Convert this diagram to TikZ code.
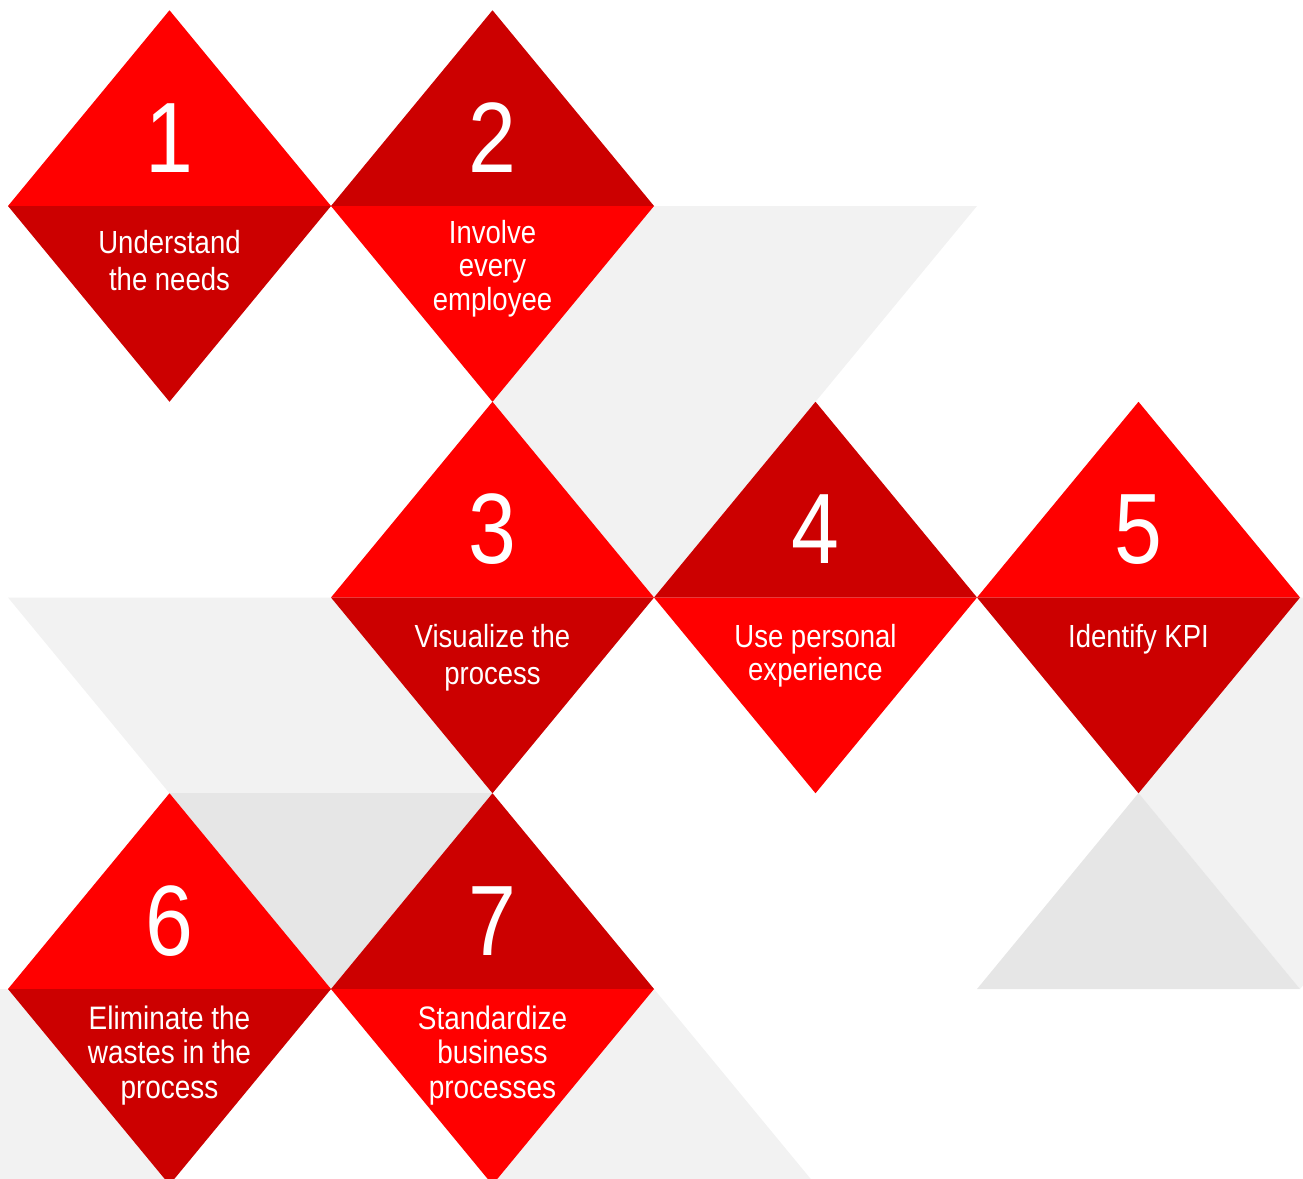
\documentclass[tikz,border=0pt]{standalone}
\usepackage{fontspec}
\setmainfont{Liberation Sans}[FakeStretch=0.86]
\definecolor{brightred}{HTML}{FF0000}
\definecolor{deepred}{HTML}{CC0000}
\definecolor{palegray}{HTML}{F2F2F2}
\definecolor{midgray}{HTML}{E6E6E6}
\tikzset{
  numtext/.style={text=white, anchor=base, inner sep=0pt, font=\fontsize{100}{100}\selectfont},
  labtext/.style={text=white, anchor=base, inner sep=0pt, align=center, font=\fontsize{#1}{#1}\selectfont},
  labtext/.default={32}
}
\newcommand{\halfdiamonds}[4]{%
  \fill[#3] (#1-161.5,#2) -- (#1,#2-195.75) -- (#1+161.5,#2) -- cycle;
  \fill[#4] (#1-161.5,#2) -- (#1,#2+195.75) -- (#1+161.5,#2) -- cycle;
}
\begin{document}
\begin{tikzpicture}[x=1pt,y=-1pt]
\useasboundingbox (0,0) rectangle (1303,1178);
\clip (0,0) rectangle (1303,1178);
% background gray triangles
\fill[palegray] (331,206) -- (977,206) -- (654,597.5) -- cycle;
\fill[palegray] (8,597.5) -- (654,597.5) -- (331,989) -- cycle;
\fill[palegray] (977,597.5) -- (1623,597.5) -- (1300,989) -- cycle;
\fill[palegray] (-315,989) -- (331,989) -- (8,1380.5) -- cycle;
\fill[palegray] (654,989) -- (977,1380.5) -- (331,1380.5) -- cycle;
\fill[midgray] (169.5,793) -- (492.5,793) -- (331,989) -- cycle;
\fill[midgray] (1138.5,793) -- (1300,989) -- (977,989) -- cycle;
% diamonds
\halfdiamonds{169.5}{206}{brightred}{deepred}
\halfdiamonds{492.5}{206}{deepred}{brightred}
\halfdiamonds{492.5}{597.5}{brightred}{deepred}
\halfdiamonds{815.5}{597.5}{deepred}{brightred}
\halfdiamonds{1138.5}{597.5}{brightred}{deepred}
\halfdiamonds{169.5}{989}{brightred}{deepred}
\halfdiamonds{492.5}{989}{deepred}{brightred}
% numbers
\node[numtext] (n1) at (169.5,172) {1};
\node[numtext] (n2) at (492.5,172) {2};
\node[numtext] (n3) at (492.5,563.5) {3};
\node[numtext] (n4) at (815.5,563.5) {4};
\node[numtext] (n5) at (1138.5,563.5) {5};
\node[numtext] (n6) at (169.5,955) {6};
\node[numtext] (n7) at (492.5,955) {7};
% labels
\node[labtext=32, font=\fontsize{32}{37}\selectfont] (l1) at (169.5,290) {Understand\\the needs};
\node[labtext=32, font=\fontsize{32}{33.5}\selectfont] (l2) at (492.5,310) {Involve\\every\\employee};
\node[labtext=32, font=\fontsize{32}{37}\selectfont] (l3) at (492.5,684) {Visualize the\\process};
\node[labtext=32, font=\fontsize{32}{33}\selectfont] (l4) at (815.5,680) {Use personal\\experience};
\node[labtext=32] (l5) at (1138.5,647) {Identify KPI};
\node[labtext=32, font=\fontsize{32.5}{34.5}\selectfont] (l6) at (169.5,1098) {Eliminate the\\wastes in the\\process};
\node[labtext=32, font=\fontsize{32.5}{34.5}\selectfont] (l7) at (492.5,1098) {Standardize\\business\\processes};
\end{tikzpicture}
\end{document}
